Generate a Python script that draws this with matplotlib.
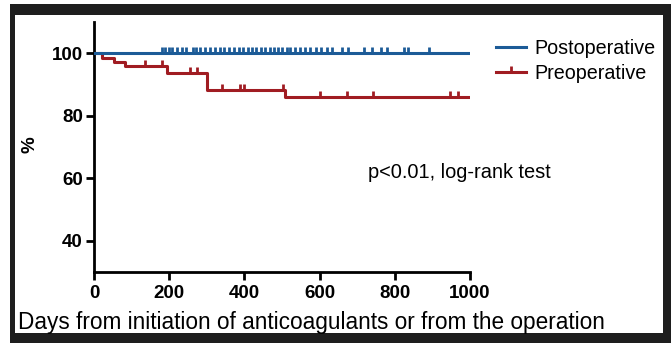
import numpy as np
import matplotlib
matplotlib.use("Agg")
import matplotlib.pyplot as plt
from matplotlib.lines import Line2D
from matplotlib.patches import Rectangle

# Kaplan-Meier curves (days, % event-free)
pre_days = [0, 20, 53, 82, 193, 300, 508, 1000]
pre_surv = [100, 98.6, 97.2, 95.8, 93.6, 88.3, 85.9, 85.9]
pre_cens = [135, 180, 255, 273, 340, 388, 399, 503, 601, 672, 741, 947, 968]

post_days = [0, 1000]
post_surv = [100, 100]
post_cens = [180, 188, 200, 208, 222, 235, 245, 262, 272, 282, 295, 308, 322,
             335, 345, 360, 372, 385, 395, 410, 420, 432, 445, 455, 468, 478,
             490, 500, 512, 522, 535, 548, 560, 575, 590, 605, 620, 632, 660,
             675, 718, 740, 762, 780, 825, 835, 890]

x_ticks = [0, 200, 400, 600, 800, 1000]
y_ticks = [40, 60, 80, 100]

blue = "#1c5b97"
red = "#a01c22"
W, H = 671, 343

fig = plt.figure(figsize=(W / 100, H / 100), dpi=100)
fig.patch.set_facecolor("white")

# dark frame around the white panel
fig.add_artist(Rectangle((10 / W, 0), 1 - 10 / W, 1 - 4 / H, transform=fig.transFigure,
                         facecolor="#1e1e1e", edgecolor="none", zorder=-10))
fig.add_artist(Rectangle((15 / W, 10 / H), (663 - 15) / W, (333 - 15) / H,
                         transform=fig.transFigure, facecolor="white",
                         edgecolor="none", zorder=-9))

ax = fig.add_axes([94 / W, 71 / H, (470 - 94) / W, (272 - 22) / H])
ax.patch.set_visible(False)

# preoperative curve
ax.step(pre_days, pre_surv, where="post", color=red, lw=2.2, zorder=3)
idx = np.searchsorted(pre_days, pre_cens, side="right") - 1
ax.plot(pre_cens, np.array(pre_surv)[idx], ls="none", marker=2, ms=4,
        mew=2, color=red, zorder=3)

# postoperative curve
ax.step(post_days, post_surv, where="post", color=blue, lw=2.2, zorder=4)
ax.plot(post_cens, [100] * len(post_cens), ls="none", marker=2, ms=4,
        mew=2, color=blue, zorder=4)

ax.set_xlim(0, 1000)
ax.set_ylim(30, 110)
ax.set_xticks(x_ticks)
ax.set_yticks(y_ticks)
for s in ["top", "right"]:
    ax.spines[s].set_visible(False)
for s in ["left", "bottom"]:
    ax.spines[s].set_linewidth(2)
ax.tick_params(direction="out", length=6, width=2, labelsize=13.5, pad=2)
for lab in ax.get_xticklabels() + ax.get_yticklabels():
    lab.set_family("Liberation Sans")
    lab.set_fontweight("bold")
ax.tick_params(axis="x", pad=3)

fig.text(18 / W, 1 - 322 / H, "Days from initiation of anticoagulants or from the operation",
         family="Liberation Sans", fontsize=16.3, va="center", ha="left")
fig.text(30 / W, 1 - 145 / H, "%", family="Liberation Sans", fontweight="bold",
         fontsize=13.5, rotation=90, va="center", ha="center")
ax.text(368 / W, 1 - 172 / H, "p<0.01, log-rank test", transform=fig.transFigure,
        family="Liberation Sans", fontsize=14.4, va="center", ha="left")

handles = [Line2D([], [], color=blue, lw=2.2),
           Line2D([], [], color=red, lw=2.2, marker=2, ms=4, mew=2)]
fig.legend(handles, ["Postoperative", "Preoperative"], loc="upper left",
           bbox_to_anchor=(496 / W, 1 - 39 / H), frameon=False,
           prop={"family": "Liberation Sans", "size": 14.2}, handlelength=1.5,
           handletextpad=0.45, labelspacing=0.32, borderaxespad=0, borderpad=0)

fig.savefig("out.png", dpi=100)
